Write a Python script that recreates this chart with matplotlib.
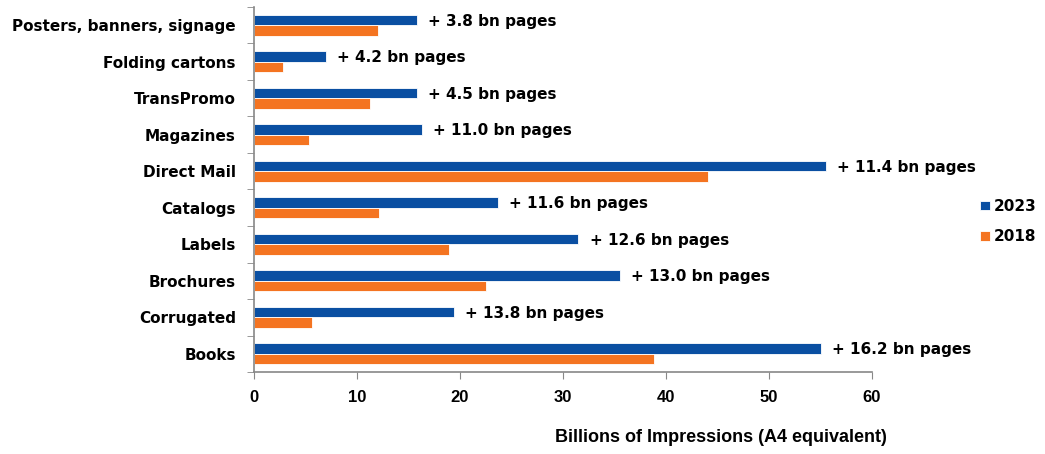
import matplotlib.pyplot as plt
import numpy as np

# print volumes, billions of A4 impressions
categories = ['Books', 'Corrugated', 'Brochures', 'Labels', 'Catalogs',
              'Direct Mail', 'Magazines', 'TransPromo', 'Folding cartons',
              'Posters, banners, signage']
vol_2023 = [55.0, 19.4, 35.5, 31.5, 23.7, 55.5, 16.3, 15.8, 7.0, 15.8]
vol_2018 = [38.8, 5.6, 22.5, 18.9, 12.1, 44.1, 5.3, 11.3, 2.8, 12.0]
growth = ['16.2', '13.8', '13.0', '12.6', '11.6', '11.4', '11.0', '4.5', '4.2', '3.8']

blue = '#0A4FA2'
orange = '#F47421'
font = ['DejaVu Sans']
narrow = ['Liberation Sans Narrow', 'Liberation Sans', 'DejaVu Sans']

fig = plt.figure(figsize=(10.45, 4.54), dpi=100)
ax = fig.add_axes([0.2431, 0.1806, 0.5914, 0.804])

y = np.arange(len(categories))
h = 0.28
b1 = ax.barh(y + 0.145, vol_2023, height=h, color=blue, edgecolor='white', linewidth=0.6, label='2023')
b2 = ax.barh(y - 0.145, vol_2018, height=h, color=orange, edgecolor='white', linewidth=0.6, label='2018')

for yi, v, g in zip(y, vol_2023, growth):
    ax.annotate('+ ' + g + ' bn pages', (v, yi + 0.145), xytext=(8, -1),
                textcoords='offset points', va='center', ha='left',
                fontsize=11, fontweight='bold', family=font)

ax.set_xlim(0, 60)
ax.set_ylim(-0.5, len(categories) - 0.5)
ax.set_xticks(range(0, 61, 10))
ax.set_yticks(y)
ax.set_yticklabels(categories, fontsize=11, fontweight='bold', family=font)
ax.set_yticks(np.arange(-0.5, len(categories), 1), minor=True)
ax.tick_params(axis='y', which='major', length=0, pad=13)
ax.tick_params(axis='y', which='minor', length=5, color='#888888', direction='out')
ax.tick_params(axis='x', length=5, color='#888888', direction='out', pad=8)
for lab in ax.get_xticklabels():
    lab.set_fontsize(12)
    lab.set_fontweight('bold')
    lab.set_family(narrow)

for s in ['top', 'right']:
    ax.spines[s].set_visible(False)
for s in ['left', 'bottom']:
    ax.spines[s].set_color('#888888')
    ax.spines[s].set_linewidth(1.2)

ax.set_xlabel('Billions of Impressions (A4 equivalent)', fontsize=13, fontweight='bold',
              family=narrow)
ax.xaxis.set_label_coords(0.756, -0.155)

fig.legend(handles=[b1, b2], loc='center left', bbox_to_anchor=(0.925, 0.512),
           frameon=False, handlelength=0.6, handleheight=0.6, handletextpad=0.3,
           labelspacing=1.0, prop={'weight': 'bold', 'size': 11, 'family': font})

plt.savefig('out.png', dpi=100)
